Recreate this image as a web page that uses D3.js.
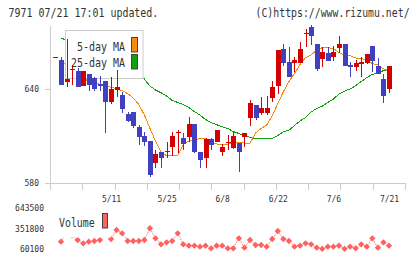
<!DOCTYPE html>
<html>
<head>
<meta charset="utf-8">
<script src="https://cdn.jsdelivr.net/npm/d3@7"></script>
<style>
body{margin:0;background:#fff}
svg{display:block}
text{font-family:"DejaVu Sans Mono",monospace;fill:#333}
</style>
</head>
<body>
<script>
// trading days, 2023
const dates = ["4/24","4/25","4/26","4/27","4/28","5/1","5/2","5/8","5/9","5/10",
  "5/11","5/12","5/15","5/16","5/17","5/18","5/19","5/22","5/23","5/24",
  "5/25","5/26","5/29","5/30","5/31","6/1","6/2","6/5","6/6","6/7",
  "6/8","6/9","6/12","6/13","6/14","6/15","6/16","6/19","6/20","6/21",
  "6/22","6/23","6/26","6/27","6/28","6/29","6/30","7/3","7/4","7/5",
  "7/6","7/7","7/10","7/11","7/12","7/13","7/14","7/18","7/19","7/20","7/21"];
const tickDates = ["5/11","5/25","6/8","6/22","7/6","7/21"];
const priceTicks = [580, 640];
const volTicks = [60100, 351800, 643500];

const open  = [660.0,658.5,644.5,652.4,651.5,641.9,649.6,646.8,643.2,645.1,
  631.9,639.4,636.2,624.0,625.5,615.9,610.0,606.8,593.0,599.8,
  599.5,603.2,612.2,608.9,609.6,617.7,600.0,596.2,608.1,606.4,
  600.0,605.5,602.5,605.7,609.6,621.7,629.8,624.9,624.9,634.4,
  642.1,665.5,657.2,656.4,656.4,675.3,679.8,668.7,659.3,662.8,
  660.2,666.4,668.7,655.3,654.2,656.1,656.8,667.4,654.7,646.4,639.8];
const high  = [660.3,660.2,671.9,655.3,653.2,651.5,649.6,647.9,648.5,645.1,
  647.9,652.1,638.3,625.0,625.5,617.0,612.8,606.8,601.1,599.8,
  606.4,612.8,613.8,612.0,622.3,617.7,600.0,608.9,609.0,614.0,
  604.9,610.6,612.4,605.7,612.1,633.0,629.8,635.1,635.5,645.1,
  664.9,668.7,667.0,660.6,670.0,678.0,680.8,668.7,667.0,667.0,
  667.4,673.8,668.7,657.0,658.5,660.2,662.3,667.4,660.0,649.6,654.7];
const low   = [660.0,642.6,641.3,642.6,641.1,641.9,638.9,638.9,638.9,612.1,
  630.4,634.7,624.9,619.0,615.3,604.3,603.8,584.0,589.8,589.8,
  596.2,597.2,599.0,601.0,606.4,599.3,589.8,589.8,601.0,606.0,
  597.2,601.1,602.0,587.2,603.0,616.6,620.2,623.4,623.4,631.9,
  636.8,654.9,647.8,651.0,656.4,667.0,668.1,651.7,653.8,658.0,
  658.1,662.8,654.9,647.5,651.7,647.5,656.0,651.0,649.4,630.9,637.6];
const close = [660.3,642.6,646.4,652.8,641.1,651.5,642.6,639.8,641.9,631.9,
  640.0,641.5,627.0,619.8,616.6,609.6,606.4,585.1,598.3,596.2,
  600.5,610.0,612.6,604.9,617.7,600.0,594.7,608.1,604.3,613.8,
  603.0,605.9,610.0,600.0,612.1,631.1,621.7,627.7,628.1,641.5,
  664.9,656.4,647.8,658.5,665.5,675.7,674.0,652.8,663.6,658.1,
  663.8,668.7,654.9,654.2,656.8,657.4,662.3,658.1,649.4,635.7,654.7];

const ma5 = [null,656.8,656.0,652.0,649.0,646.5,645.2,644.0,643.0,641.9,
  641.1,640.3,638.9,637.1,634.3,630.1,623.4,614.9,606.8,599.8,
  597.4,597.4,597.4,604.5,606.8,607.5,608.4,608.1,605.3,604.9,
  604.3,604.7,606.4,605.9,605.5,605.5,611.9,614.8,617.0,622.8,
  630.7,638.3,644.7,649.9,655.6,660.1,661.7,664.9,666.4,666.4,
  665.8,663.3,661.7,661.3,659.8,659.6,658.2,656.3,655.3,652.9,651.5];
const ma25 = [null,672.4,671.3,670.0,669.0,667.5,666.0,664.5,663.0,661.5,
  660.0,658.0,656.0,654.0,651.0,648.0,646.4,641.9,639.4,637.6,
  635.5,632.7,631.4,630.1,628.2,625.6,623.4,620.5,618.6,617.2,
  615.9,614.8,612.8,611.6,610.3,609.2,608.3,608.1,608.1,608.4,
  610.3,612.8,613.6,616.7,619.6,621.8,625.3,627.6,629.0,631.4,
  633.6,636.8,638.7,640.0,642.1,644.8,647.2,649.3,650.0,651.8,652.4];
const volume = [null,164000,300000,255000,188000,141000,164000,174000,188000,280000,
  202000,330000,283000,174000,174000,174000,188000,355000,212000,127000,
  155000,174000,283000,127000,107000,107000,93000,107000,70000,107000,
  107000,70000,70000,212000,79000,188000,117000,117000,93000,202000,
  316000,202000,174000,93000,107000,141000,127000,79000,62000,93000,
  93000,107000,62000,93000,70000,127000,93000,212000,79000,155000,107000];

const W = 420, H = 259;
const RED = "#d40000", BLUE = "#4040c0", ORANGE = "#f08c10", GREEN = "#10a010", VOL = "#ff6060";

const svg = d3.select("body").append("svg").attr("width", W).attr("height", H);

const x = d3.scalePoint().domain(dates).range([55.4, 389]);
const y = d3.scaleLinear().domain([580, 680.85]).range([183, 25]);
const yv = d3.scaleLinear().domain([60100, 643500]).range([249, 208]);
const frame = d3.scaleLinear().domain([0, 11]).range([50, 405]);

// tall narrow mono text: 10px glyphs stretched vertically
function monoText(g, str, px, py, sx) {
  return g.append("text").attr("font-size", 10)
    .attr("transform", `translate(${px},${py}) scale(${sx || 1},1.22)`).text(str);
}
monoText(svg, "7971 07/21 17:01 updated.", 8.5, 17, 0.997);
monoText(svg, "(C)https://www.rizumu.net/", 255.5, 17, 0.985);

// axes
const gx = svg.append("g").attr("transform", "translate(0,183)")
  .call(d3.axisBottom(frame).tickValues(d3.range(12)).tickSize(7).tickSizeOuter(0).tickFormat(""));
const gy = svg.append("g").attr("transform", "translate(50,0)")
  .call(d3.axisLeft(y).tickValues(priceTicks).tickSize(5).tickSizeOuter(0).tickPadding(6));
[gx, gy].forEach(g => {
  g.selectAll("path,line").attr("stroke", "#cccccc").attr("shape-rendering", "crispEdges");
  g.attr("font-family", null).attr("font-size", 8);
});
gy.selectAll("text").attr("fill", "#333");

const gd = svg.append("g").attr("transform", "translate(0,190)")
  .call(d3.axisBottom(x).tickValues(tickDates).tickSize(0).tickPadding(6));
gd.select(".domain").remove();
gd.attr("font-family", null).attr("font-size", 8);
gd.selectAll("text").attr("fill", "#333");

const gv = svg.append("g").attr("transform", "translate(47,0)")
  .call(d3.axisLeft(yv).tickValues(volTicks).tickSize(0).tickPadding(3).tickFormat(d => String(d)));
gv.select(".domain").remove();
gv.attr("font-family", null).attr("font-size", 8);
gv.selectAll("text").attr("fill", "#333");

// moving averages
const maLine = arr => d3.line()
  .defined((d, i) => arr[i] != null)
  .x((d, i) => x(dates[i]))
  .y((d, i) => y(arr[i]));
svg.append("path").datum(dates).attr("d", maLine(ma25)).attr("fill", "none")
  .attr("stroke", GREEN).attr("stroke-width", 1).attr("shape-rendering", "crispEdges");
svg.append("path").datum(dates).attr("d", maLine(ma5)).attr("fill", "none")
  .attr("stroke", ORANGE).attr("stroke-width", 1).attr("shape-rendering", "crispEdges");

// MA legend
const lg = svg.append("g");
lg.append("rect").attr("x", 65.5).attr("y", 30.5).attr("width", 77.5).attr("height", 48)
  .attr("fill", "#fff").attr("stroke", "#cccccc");
monoText(lg, "5-day MA", 77, 51, 0.997);
monoText(lg, "25-day MA", 71, 67, 0.997);
lg.append("rect").attr("x", 131.5).attr("y", 37.5).attr("width", 6).attr("height", 14.5)
  .attr("fill", ORANGE).attr("stroke", "#444");
lg.append("rect").attr("x", 131.5).attr("y", 54.5).attr("width", 6).attr("height", 14.5)
  .attr("fill", GREEN).attr("stroke", "#444");

// candles
const cd = dates.map((d, i) => ({ d, o: open[i], h: high[i], l: low[i], c: close[i] }));
const cg = svg.append("g").attr("shape-rendering", "crispEdges")
  .selectAll("g").data(cd).join("g");
cg.append("line")
  .attr("x1", d => Math.round(x(d.d)) + 0.5).attr("x2", d => Math.round(x(d.d)) + 0.5)
  .attr("y1", d => y(d.h)).attr("y2", d => y(d.l))
  .attr("stroke", d => d.c >= d.o ? RED : BLUE);
cg.append("rect")
  .attr("x", d => Math.round(x(d.d)) - 2).attr("width", 5)
  .attr("y", d => y(Math.max(d.o, d.c)))
  .attr("height", d => Math.max(1, y(Math.min(d.o, d.c)) - y(Math.max(d.o, d.c))))
  .attr("fill", d => d.c >= d.o ? RED : BLUE);

// volume
svg.append("path").datum(dates)
  .attr("d", d3.line().defined((d, i) => volume[i] != null).x((d, i) => x(dates[i])).y((d, i) => yv(volume[i])))
  .attr("fill", "none").attr("stroke", VOL).attr("stroke-dasharray", "1,1");
svg.append("g").selectAll("path").data(dates.filter((d, i) => volume[i] != null)).join("path")
  .attr("d", d3.symbol(d3.symbolSquare, 20))
  .attr("transform", d => `translate(${x(d)},${yv(volume[dates.indexOf(d)])}) rotate(45)`)
  .attr("fill", VOL);

const vl = svg.append("g");
vl.append("rect").attr("x", 56).attr("y", 210).attr("width", 55).attr("height", 27.5).attr("fill", "#fff");
monoText(vl, "Volume", 59, 226.5, 0.99);
vl.append("rect").attr("x", 102.5).attr("y", 213.5).attr("width", 5).attr("height", 14.5)
  .attr("fill", VOL).attr("stroke", "#444");
</script>
</body>
</html>
